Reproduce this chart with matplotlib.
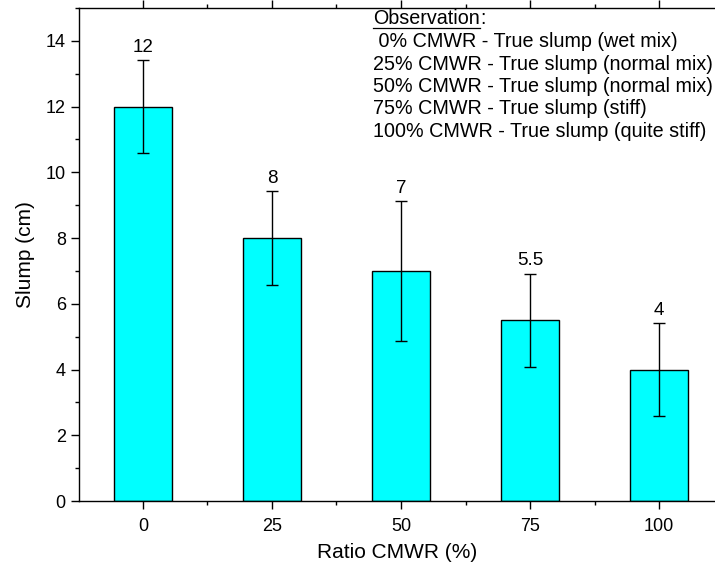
import numpy as np
import matplotlib
matplotlib.use('Agg')
import matplotlib.pyplot as plt
from matplotlib.ticker import MultipleLocator, FixedLocator
from matplotlib.lines import Line2D

plt.rcParams.update({
    'font.family': ['Liberation Sans', 'DejaVu Sans'],
    'font.size': 13,
    'axes.linewidth': 1.0,
})

# 坍落度数据
ratios = ['0', '25', '50', '75', '100']
slump = [12, 8, 7, 5.5, 4]
slump_err = [1.42, 1.42, 2.12, 1.42, 1.42]
value_labels = ['12', '8', '7', '5.5', '4']

obs_title = 'Observation'
obs_lines = [
    ' 0% CMWR - True slump (wet mix)',
    '25% CMWR - True slump (normal mix)',
    '50% CMWR - True slump (normal mix)',
    '75% CMWR - True slump (stiff)',
    '100% CMWR - True slump (quite stiff)',
]

W, H = 715, 568
fig = plt.figure(figsize=(W / 100, H / 100), dpi=100)
ax = fig.add_axes([79 / W, 1 - 501 / H, 1 - 79 / W, 493 / H])

x = np.arange(len(ratios))
ax.bar(x, slump, width=0.45, color='#00FFFF', edgecolor='black',
       linewidth=1.0, zorder=2)
ax.errorbar(x, slump, yerr=slump_err, fmt='none', ecolor='black',
            elinewidth=1.0, capsize=4, capthick=1.0, zorder=3)

for xi, yi, ei, lab in zip(x, slump, slump_err, value_labels):
    ax.annotate(lab, (xi, yi + ei), xytext=(0, 6), textcoords='offset points',
                ha='center', va='baseline', fontsize=13.5)

ax.set_xlim(-0.496, 4.434)
ax.set_ylim(0, 15)
ax.set_xticks(x)
ax.set_xticklabels(ratios)
ax.xaxis.set_minor_locator(FixedLocator(x[:-1] + 0.5))
ax.yaxis.set_major_locator(MultipleLocator(2))
ax.yaxis.set_minor_locator(MultipleLocator(1))

ax.tick_params(axis='both', which='major', direction='out', length=6,
               width=1.0, labelsize=13)
ax.tick_params(axis='both', which='minor', direction='out', length=3,
               width=1.0)
ax.tick_params(axis='x', top=True, which='both')
ax.tick_params(axis='x', pad=6)
ax.spines['right'].set_visible(False)

ax.set_xlabel('Ratio CMWR (%)', fontsize=15, labelpad=6)
ax.set_ylabel('Slump (cm)', fontsize=15, labelpad=8)

# 观察说明
fs_obs = 14.2
tx, ty = 373 / W, 1 - 19 / H
t_obs = fig.text(tx, ty, obs_title, ha='left', va='center', fontsize=fs_obs)
fig.canvas.draw()
bb = t_obs.get_window_extent()
fig.text(bb.x1 / W, ty, ':', ha='left', va='center', fontsize=fs_obs)
uy = (bb.y0 + 1) / H
fig.add_artist(Line2D([bb.x0 / W, bb.x1 / W], [uy, uy], color='black',
                      linewidth=0.9, transform=fig.transFigure))

for i, line in enumerate(obs_lines):
    fig.text(tx, ty - (22.5 * (i + 1)) / H, line, ha='left', va='center',
             fontsize=fs_obs)

fig.savefig('out.png', dpi=100, facecolor='white')
